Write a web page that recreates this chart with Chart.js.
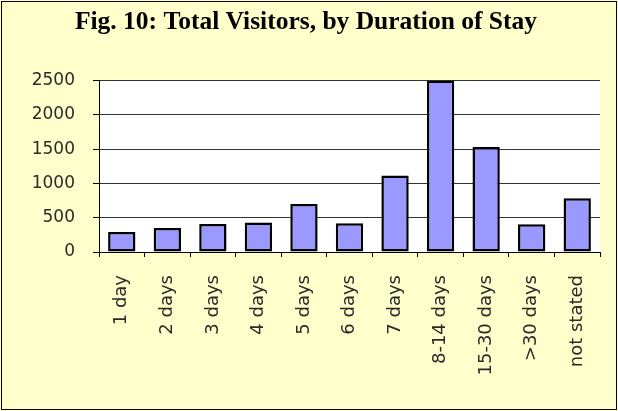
<!DOCTYPE html>
<html>
<head>
<meta charset="utf-8">
<script src="https://cdn.jsdelivr.net/npm/chart.js@4/dist/chart.umd.min.js"></script>
<style>
html,body{margin:0;padding:0;background:#FFFFCC;}
#wrap{width:618px;height:411px;position:relative;}
canvas{display:block;}
</style>
</head>
<body>
<div id="wrap"><canvas id="c" width="618" height="411"></canvas></div>
<script>
const categories = ["1 day","2 days","3 days","4 days","5 days","6 days","7 days","8-14 days","15-30 days",">30 days","not stated"];
const visitors = [290, 350, 410, 430, 700, 420, 1115, 2500, 1530, 405, 785];
const yTicks = [0, 500, 1000, 1500, 2000, 2500];

const bgPlugin = {
  id: 'bg',
  beforeDraw(chart) {
    const ctx = chart.ctx, a = chart.chartArea;
    ctx.save();
    ctx.fillStyle = '#FFFFCC';
    ctx.fillRect(0, 0, chart.width, chart.height);
    ctx.fillStyle = '#FFFFFF';
    ctx.fillRect(a.left, a.top, a.right - a.left, a.bottom - a.top);
    ctx.restore();
  },
  afterDraw(chart) {
    const ctx = chart.ctx;
    ctx.save();
    ctx.strokeStyle = '#000';
    ctx.lineWidth = 1;
    ctx.strokeRect(1.5, 1.5, chart.width - 3, chart.height - 3);
    ctx.restore();
  }
};

new Chart(document.getElementById('c'), {
  type: 'bar',
  data: {
    labels: categories,
    datasets: [{
      data: visitors,
      backgroundColor: '#9999FF',
      borderColor: '#000000',
      borderWidth: 2.5,
      borderSkipped: false,
      barPercentage: 0.6,
      categoryPercentage: 1.0
    }]
  },
  options: {
    responsive: false,
    animation: false,
    devicePixelRatio: 1,
    layout: { padding: { left: 12, right: 18, top: 0, bottom: 0 } },
    plugins: {
      legend: { display: false },
      tooltip: { enabled: false },
      title: {
        display: true,
        text: 'Fig. 10: Total Visitors, by Duration of Stay',
        font: { family: '"Liberation Serif", "Times New Roman", serif', size: 25.5, weight: 'bold', lineHeight: 1.2 },
        color: '#000000',
        padding: { top: 7, bottom: 43 }
      }
    },
    scales: {
      x: {
        grid: { display: true, offset: true, drawOnChartArea: false, drawTicks: true, tickLength: 5, tickColor: '#000', color: '#000' },
        border: { display: true, color: '#000', width: 1 },
        ticks: {
          color: '#2a2a2a',
          font: { family: '"DejaVu Sans", Verdana, sans-serif', size: 18 },
          minRotation: 90, maxRotation: 90,
          padding: 18,
          autoSkip: false
        },
        afterFit(scale) { scale.height = 159; }
      },
      y: {
        min: 0, max: 2500,
        afterBuildTicks(scale) { scale.ticks = yTicks.map(v => ({ value: v })); },
        grid: { color: '#333333', lineWidth: 1, tickLength: 6, tickColor: '#000' },
        border: { display: true, color: '#000', width: 1 },
        ticks: {
          color: '#2a2a2a',
          font: { family: '"DejaVu Sans", Verdana, sans-serif', size: 17 },
          padding: 18,
          callback: (v) => String(v)
        },
        afterFit(scale) { scale.width = 87; }
      }
    }
  },
  plugins: [bgPlugin]
});
</script>
</body>
</html>
